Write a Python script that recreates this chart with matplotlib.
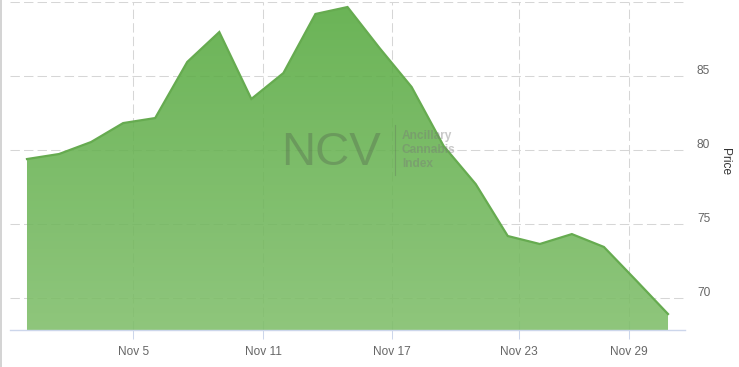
import matplotlib
matplotlib.use("Agg")
import matplotlib.pyplot as plt
import matplotlib.transforms as mtransforms
from matplotlib.patches import PathPatch
from matplotlib.lines import Line2D
import numpy as np

plt.rcParams['font.family'] = ['Liberation Sans', 'DejaVu Sans']

# closing prices, one point per session
price = [79.39, 79.73, 80.54, 81.82, 82.16, 85.95, 87.97, 83.45, 85.20, 89.19, 89.66,
         86.89, 84.26, 80.27, 77.70, 74.19, 73.65, 74.32, 73.45, 71.20, 68.92]
session = list(range(len(price)))

date_ticks = [3.31, 7.375, 11.375, 15.34, 18.78]
date_labels = ['Nov 5', 'Nov 11', 'Nov 17', 'Nov 23', 'Nov 29']
price_ticks = [70, 75, 80, 85, 90]
price_labels = ['70', '75', '80', '85', '']

W, H = 739, 367
fig = plt.figure(figsize=(W / 100, H / 100), dpi=100)
ax = fig.add_axes([10 / W, (H - 330) / H, 675 / W, 328 / H])

ax.set_xlim(-0.53, 20.53)
ax.set_ylim(67.84, 90)

# gradient area
fill = ax.fill_between(session, price, 67.84, color='none', lw=0)
clip = PathPatch(fill.get_paths()[0], transform=ax.transData, fc='none', ec='none')
ax.add_patch(clip)
top = np.array([87, 170, 64]) / 255
bot = np.array([127, 190, 106]) / 255
t = np.linspace(0, 1, 256)[:, None]
grad = np.zeros((256, 1, 4))
grad[:, 0, :3] = top * (1 - t) + bot * t
grad[:, 0, 3] = 0.88
im = ax.imshow(grad, extent=[-0.53, 20.53, 67.84, max(price)], aspect='auto',
               origin='upper', zorder=2, interpolation='bilinear')
im.set_clip_path(clip)
ax.plot(session, price, color='#66ab50', lw=1.6, zorder=3, solid_joinstyle='miter')

# axes styling
for s in ['top', 'left', 'right']:
    ax.spines[s].set_visible(False)
ax.spines['bottom'].set_color('#ccd6eb')
ax.spines['bottom'].set_linewidth(1)
ax.spines['bottom'].set_zorder(4)

ax.set_xticks(date_ticks)
ax.set_xticklabels(date_labels)
ax.set_yticks(price_ticks)
ax.set_yticklabels(price_labels)
ax.yaxis.tick_right()
ax.tick_params(axis='x', length=6.5, width=0.75, color='#ccd6eb', pad=5,
               labelsize=8.6, labelcolor='#666666')
ax.tick_params(axis='y', length=0, pad=8.6, labelsize=8.6, labelcolor='#666666')
ax.grid(True, color='#d6d6d6', lw=0.75, dashes=(9, 4), zorder=1)
ax.set_axisbelow(True)

offset = mtransforms.ScaledTranslation(0, 0.07, fig.dpi_scale_trans)
for lab in ax.get_yticklabels():
    lab.set_transform(lab.get_transform() + offset)

ax.set_ylabel('Price', rotation=270, fontsize=8.6, color='#333333', va='center', ha='center')
ax.yaxis.set_label_coords(1.059, 0.515)

# watermark
fig.text(281 / W, (H - 165) / H, 'NCV', fontsize=34, color='#444444', alpha=0.27,
         va='baseline', ha='left', zorder=10)
fig.text(402 / W, (H - 167) / H, 'Ancillary\nCannabis\nIndex', fontsize=8.6, fontweight='bold',
         color='#777777', alpha=0.4, va='baseline', ha='left', linespacing=1.2, zorder=10)
fig.add_artist(Line2D([395 / W, 395 / W], [(H - 125) / H, (H - 175) / H],
                      color='#555555', alpha=0.25, lw=0.8))

# left frame edge
fig.add_artist(Line2D([0.6 / W, 0.6 / W], [0, 1], color='#cccccc', lw=1.2))

fig.savefig('out.png', dpi=100, facecolor='white')
